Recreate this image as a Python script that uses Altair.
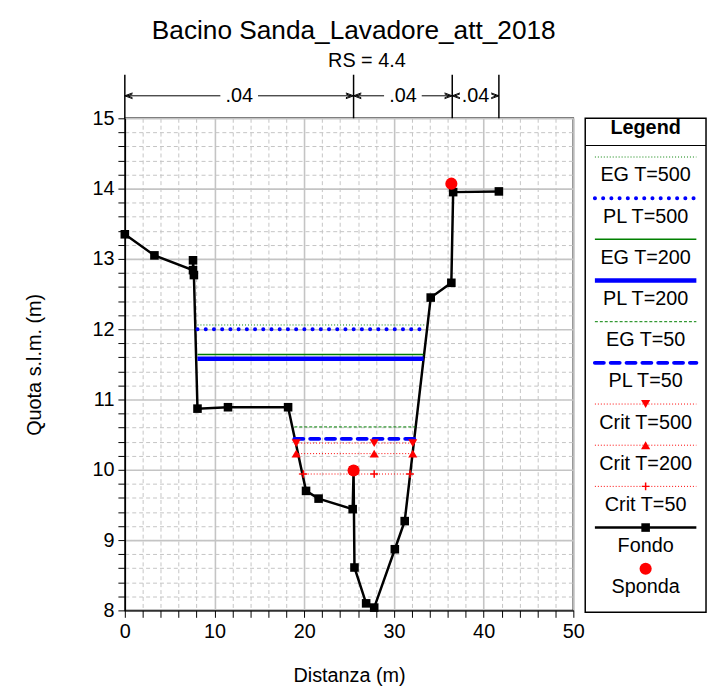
import altair as alt
import pandas as pd

FONT = "Liberation Sans"

# ---------------- data ----------------
fondo_x = [0.0, 3.3, 7.6, 7.6, 7.7, 8.1, 11.5, 18.2, 20.2, 21.6, 25.4, 25.5, 25.6,
           26.9, 27.8, 30.1, 31.2, 34.1, 36.4, 36.6, 41.7]
fondo_y = [13.35, 13.05, 12.84, 12.98, 12.77, 10.87, 10.89, 10.89, 9.70, 9.59, 9.44,
           9.99, 8.61, 8.10, 8.04, 8.87, 9.27, 12.45, 12.66, 13.95, 13.96]

sponda_x = [25.5, 36.4]
sponda_y = [9.99, 14.07]

wl_names = ["EG T=500", "PL T=500", "EG T=200", "PL T=200", "EG T=50", "PL T=50",
            "Crit T=500", "Crit T=200", "Crit T=50"]
wl_levels = [12.06, 12.00, 11.64, 11.58, 10.61, 10.44, 10.38, 10.23, 9.94]
wl_start = [8.1, 8.1, 8.1, 8.1, 18.9, 18.9, 19.0, 19.0, 19.4]
wl_end = [33.5, 33.5, 33.3, 33.3, 32.4, 32.4, 32.3, 32.3, 31.9]

crit_marker_x = {"Crit T=500": [19.1, 27.8, 32.1],
                 "Crit T=200": [19.1, 27.8, 32.1],
                 "Crit T=50": [19.9, 27.8, 31.8]}

manning_edges = [0.0, 25.5, 36.5, 41.7]
manning_n = [".04", ".04", ".04"]

legend_names = wl_names + ["Fondo", "Sponda"]

x_ticks = list(range(0, 51, 2))
y_ticks = [round(8 + 0.2 * i, 1) for i in range(36)]

# ---------------- styles ----------------
GREEN = "#008000"
BLUE = "#0000ff"
RED = "#ff0000"
styles = {
    "EG T=500": dict(color=GREEN, strokeWidth=1, strokeDash=[1, 2]),
    "PL T=500": dict(color=BLUE, strokeWidth=4, strokeDash=[0.1, 8.2], strokeCap="round"),
    "EG T=200": dict(color=GREEN, strokeWidth=1.5),
    "PL T=200": dict(color=BLUE, strokeWidth=4.5),
    "EG T=50": dict(color=GREEN, strokeWidth=1, strokeDash=[3, 2]),
    "PL T=50": dict(color=BLUE, strokeWidth=4, strokeDash=[9, 7], strokeCap="round"),
    "Crit T=500": dict(color=RED, strokeWidth=1, strokeDash=[1, 2]),
    "Crit T=200": dict(color=RED, strokeWidth=1, strokeDash=[1, 2]),
    "Crit T=50": dict(color=RED, strokeWidth=1, strokeDash=[1, 2]),
}
crit_shapes = {
    "Crit T=500": dict(shape="triangle-down", filled=True, size=85),
    "Crit T=200": dict(shape="triangle-up", filled=True, size=85),
    "Crit T=50": dict(shape="M -1 0 L 1 0 M 0 -1 L 0 1", filled=False, size=60, strokeWidth=1.5),
}

xs = alt.Scale(domain=[0, 50], nice=False, zero=False)
ys = alt.Scale(domain=[8, 15], nice=False, zero=False)

common_axis = dict(
    labelFont=FONT, titleFont=FONT, labelFontSize=20, titleFontSize=20,
    titleFontWeight="normal", labelColor="black", titleColor="black",
    domainColor="black", domainWidth=1.5, tickColor="black", tickSize=7,
    labelFlush=False, labelOverlap=False, grid=True, gridColor="#c4c4c4",
    tickCount=100, tickMinStep=0.1,
)
X_MAJOR = "datum.value % 10 === 0"
Y_MAJOR = "abs(datum.value - round(datum.value)) < 0.01"
x_axis = alt.Axis(
    values=x_ticks, title="Distanza (m)",
    labelExpr=f"{X_MAJOR} ? format(datum.value, 'd') : ''",
    gridDash={"condition": {"test": X_MAJOR, "value": [1, 0]}, "value": [4, 3]},
    gridWidth={"condition": {"test": X_MAJOR, "value": 1.6}, "value": 1},
    labelPadding=4, titlePadding=25, **common_axis)
y_axis = alt.Axis(
    values=y_ticks, title="Quota s.l.m. (m)",
    labelExpr=f"{Y_MAJOR} ? format(datum.value, 'd') : ''",
    gridDash={"condition": {"test": Y_MAJOR, "value": [1, 0]}, "value": [4, 3]},
    gridWidth={"condition": {"test": Y_MAJOR, "value": 1.6}, "value": 1},
    labelPadding=4, titlePadding=48, **common_axis)


def X(field):
    return alt.X(field, scale=xs, axis=x_axis)


def Y(field):
    return alt.Y(field, scale=ys, axis=y_axis)


# ---------------- main panel ----------------
fondo_df = pd.DataFrame({"x": fondo_x, "y": fondo_y, "i": range(len(fondo_x))})
fondo = alt.Chart(fondo_df).mark_line(color="black", strokeWidth=2.5).encode(
    x=X("x:Q"), y=Y("y:Q"), order="i:Q")
fondo_pts = alt.Chart(fondo_df).mark_point(shape="square", filled=True, color="black", size=75, opacity=1).encode(
    x=X("x:Q"), y=Y("y:Q"))

layers = []
wl_df = pd.DataFrame({"name": wl_names, "y": wl_levels, "x1": wl_start, "x2": wl_end})
for name in wl_names:
    st = styles[name]
    layers.append(
        alt.Chart(wl_df[wl_df.name == name]).mark_rule(**st).encode(
            x=X("x1:Q"), x2="x2:Q", y=Y("y:Q")))
for name, xs_list in crit_marker_x.items():
    lvl = wl_levels[wl_names.index(name)]
    df = pd.DataFrame({"x": xs_list, "y": [lvl] * len(xs_list)})
    layers.append(
        alt.Chart(df).mark_point(color=RED, opacity=1, **crit_shapes[name]).encode(
            x=X("x:Q"), y=Y("y:Q")))

sponda_df = pd.DataFrame({"x": sponda_x, "y": sponda_y})
sponda = alt.Chart(sponda_df).mark_circle(color=RED, size=150, opacity=1).encode(
    x=X("x:Q"), y=Y("y:Q"))

# Manning n annotation above plot
edges_df = pd.DataFrame({"x": manning_edges})
bars = alt.Chart(edges_df).mark_rule(color="black", strokeWidth=1.5).encode(
    x=X("x:Q"), y=alt.Y(datum=15.0, scale=ys, axis=y_axis), y2=alt.datum(15.62))
zones = pd.DataFrame({"a": manning_edges[:-1], "b": manning_edges[1:], "n": manning_n})
zones["mid"] = (zones.a + zones.b) / 2
GAP = 2.1
seg_df = pd.DataFrame({
    "s": list(zones.a) + list(zones.mid + GAP),
    "e": list(zones.mid - GAP) + list(zones.b)})
segs = alt.Chart(seg_df).mark_rule(color="black", strokeWidth=1).encode(
    x=X("s:Q"), x2="e:Q", y=alt.Y(datum=15.32, scale=ys, axis=y_axis))
LEFT_HEAD = "M 0 0 L 2 -0.75 M 0 0 L 2 0.75 M 0.7 0 L 2 -0.5 M 0.7 0 L 2 0.5"
RIGHT_HEAD = "M 0 0 L -2 -0.75 M 0 0 L -2 0.75 M -0.7 0 L -2 -0.5 M -0.7 0 L -2 0.5"
left_heads = alt.Chart(zones).mark_point(shape=LEFT_HEAD, filled=False,
                                         color="black", size=60, strokeWidth=1, opacity=1).encode(
    x=X("a:Q"), y=alt.Y(datum=15.32, scale=ys, axis=y_axis))
right_heads = alt.Chart(zones).mark_point(shape=RIGHT_HEAD, filled=False,
                                          color="black", size=60, strokeWidth=1, opacity=1).encode(
    x=X("b:Q"), y=alt.Y(datum=15.32, scale=ys, axis=y_axis))
n_text = alt.Chart(zones).mark_text(font=FONT, fontSize=20, color="black", baseline="middle").encode(
    x=X("mid:Q"), y=alt.Y(datum=15.32, scale=ys, axis=y_axis), text="n:N")

main = alt.layer(
    fondo, *layers, fondo_pts, sponda, bars, segs, left_heads, right_heads, n_text
).properties(
    width=453, height=497,
    title=alt.TitleParams("RS = 4.4", font=FONT, fontSize=20, fontWeight="normal",
                          color="black", anchor="middle", dx=18, offset=-13,
                          baseline="alphabetic"),
)

# ---------------- legend panel ----------------
lx = alt.Scale(domain=[0, 1], nice=False, zero=False)
ly = alt.Scale(domain=[0, 12], nice=False, zero=False, reverse=True)
leg_df = pd.DataFrame({"name": legend_names, "slot": range(1, len(legend_names) + 1)})
leg_df["slot"] = leg_df.slot - 0.06
leg_df["lab"] = leg_df.slot + 0.45


def LX(v):
    return alt.X(datum=v, scale=lx, axis=None)


def LY(field):
    return alt.Y(field, scale=ly, axis=None)


leg_layers = []
for name in wl_names:
    st = styles[name]
    leg_layers.append(
        alt.Chart(leg_df[leg_df.name == name]).mark_rule(**st).encode(
            x=LX(0.08), x2=alt.datum(0.92), y=LY("slot:Q")))
for name in crit_marker_x:
    leg_layers.append(
        alt.Chart(leg_df[leg_df.name == name]).mark_point(color=RED, opacity=1, **crit_shapes[name]).encode(
            x=LX(0.5), y=LY("slot:Q")))
fd = leg_df[leg_df.name == "Fondo"]
leg_layers.append(alt.Chart(fd).mark_rule(color="black", strokeWidth=2.5).encode(
    x=LX(0.08), x2=alt.datum(0.92), y=LY("slot:Q")))
leg_layers.append(alt.Chart(fd).mark_point(shape="square", filled=True, color="black", size=75, opacity=1).encode(
    x=LX(0.5), y=LY("slot:Q")))
sd = leg_df[leg_df.name == "Sponda"]
leg_layers.append(alt.Chart(sd).mark_circle(color=RED, size=150, opacity=1).encode(
    x=LX(0.5), y=LY("slot:Q")))
leg_text = alt.Chart(leg_df).mark_text(font=FONT, fontSize=20, color="black", baseline="middle").encode(
    x=LX(0.5), y=LY("lab:Q"), text="name:N")
header_df = pd.DataFrame({"t": ["Legend"]})
header = alt.Chart(header_df).mark_text(font=FONT, fontSize=20, fontWeight="bold", color="black",
                                        baseline="middle").encode(
    x=LX(0.5), y=alt.Y(datum=0.24, scale=ly, axis=None), text="t:N")
divider = alt.Chart(header_df).mark_rule(color="black", strokeWidth=1.2).encode(
    x=LX(0.0), x2=alt.datum(1.0), y=alt.Y(datum=0.66, scale=ly, axis=None))

legend = alt.layer(*leg_layers, leg_text, header, divider).properties(width=122, height=499)

chart = alt.hconcat(main, legend, spacing=12, bounds="flush").properties(
    title=alt.TitleParams("Bacino Sanda_Lavadore_att_2018", font=FONT, fontSize=26.5,
                          fontWeight="normal", color="black", anchor="middle", offset=-15,
                          dx=-12, baseline="alphabetic"),
    padding={"left": 16, "top": 6, "right": 0, "bottom": 0},
).configure_view(stroke="black", strokeWidth=1.5)

chart.save("out.html", embed_options={"renderer": "svg", "actions": False})
